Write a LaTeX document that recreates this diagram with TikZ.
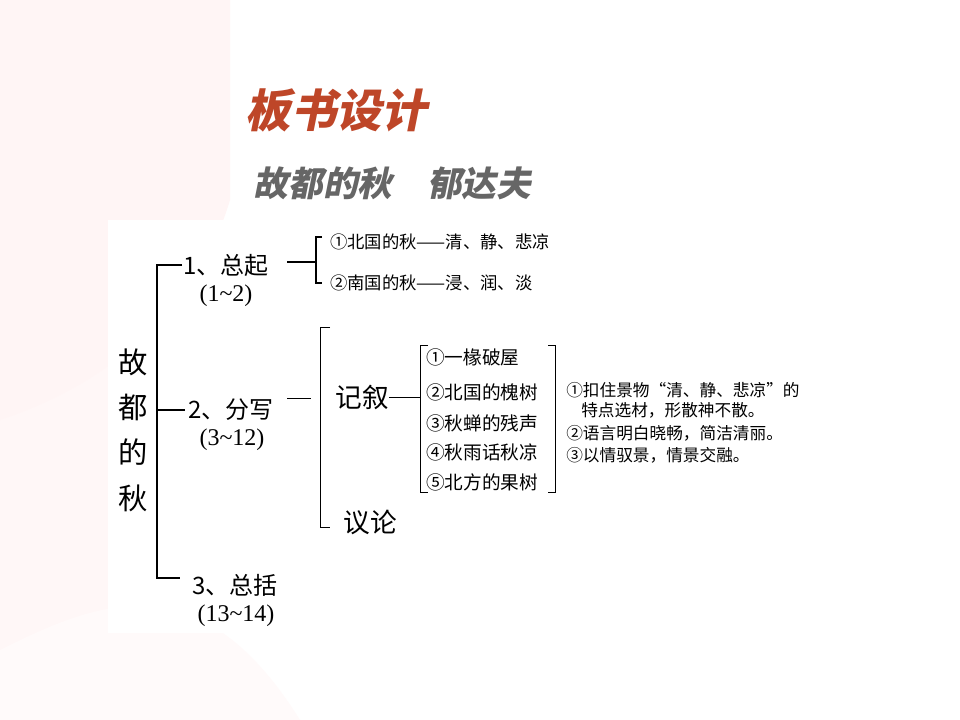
\documentclass[tikz,border=0pt]{standalone}
\usepackage{fontspec}
\setmainfont{Liberation Serif}
\newfontfamily\cjk{Noto Sans CJK SC}
\begin{document}
\begin{tikzpicture}[x=0.75pt,y=-0.75pt,
  ln/.style={line width=1.2pt,black},
  tx/.style={font=\cjk\fontsize{13}{15}\selectfont,inner sep=0pt,anchor=west},
  bx/.style={font=\cjk\fontsize{18}{20}\selectfont,inner sep=0pt},
  nm/.style={font=\fontsize{18}{20}\selectfont,inner sep=0pt}]
\useasboundingbox (0,0) rectangle (960,720);
\fill[white] (0,0) rectangle (960,720);
\fill[red!3] (0,0) rectangle (150,720);
\fill[red!4] (0,420) .. controls (120,380) and (200,300) .. (230,200) -- (230,0) -- (0,0) -- cycle;
\fill[red!2] (0,650) .. controls (100,600) and (200,560) .. (300,720) -- (0,720) -- cycle;
\fill[white] (108,220) rectangle (832,633);
% titles
\node[font=\cjk\bfseries\fontsize{34}{36}\selectfont,text={rgb,255:red,190;green,70;blue,40},xslant=0.2] (t) at (340,110) {板书设计};
\node[font=\cjk\bfseries\fontsize{26}{28}\selectfont,text=gray!80!black,xslant=0.2] (st) at (395,183) {故都的秋\quad 郁达夫};
% root
\node[bx,align=center,font=\cjk\fontsize{22}{34}\selectfont] (r) at (133,430) {故\\都\\的\\秋};
\coordinate (m1) at (157,265); \coordinate (m3) at (157,578);
\draw[ln] (182,265) -- (m1) -- (m3) -- (180,578);
\draw[ln] (157,410) -- (185,410);
\node[bx,anchor=west] (a1) at (183,265) {1、总起};
\node[nm] (a1n) at (226,296) {(1\textasciitilde2)};
\node[bx,anchor=west] (a2) at (188,410) {2、分写};
\node[nm] (a2n) at (232,440) {(3\textasciitilde12)};
\node[bx,anchor=west] (a3) at (192,585) {3、总括};
\node[nm] (a3n) at (236,616) {(13\textasciitilde14)};
% branch 1
\draw[ln] (287,262) -- (316,262);
\draw[ln] (322,237) -- (316,237) -- (316,283) -- (322,283);
\node[tx] (b1) at (330,242) {①北国的秋——清、静、悲凉};
\node[tx] (b2) at (330,283) {②南国的秋——浸、润、淡};
% branch 2
\draw (287,398) -- (311,398);
\draw (330,327) -- (320,327) -- (320,527) -- (330,527);
\node[bx,font=\cjk\fontsize{20}{22}\selectfont] (c1) at (362,397) {记叙};
\node[bx,font=\cjk\fontsize{20}{22}\selectfont] (c2) at (370,522) {议论};
\draw (c1.east) -- (420,397);
\draw (428,345) -- (420,345) -- (420,492) -- (428,492);
\draw (548,345) -- (555,345) -- (555,492) -- (548,492);
\node[tx,font=\cjk\fontsize{14}{16}\selectfont] (d1) at (426,357) {①一椽破屋};
\node[tx,font=\cjk\fontsize{14}{16}\selectfont] (d2) at (426,392) {②北国的槐树};
\node[tx,font=\cjk\fontsize{14}{16}\selectfont] (d3) at (426,423) {③秋蝉的残声};
\node[tx,font=\cjk\fontsize{14}{16}\selectfont] (d4) at (426,452) {④秋雨话秋凉};
\node[tx,font=\cjk\fontsize{14}{16}\selectfont] (d5) at (426,482) {⑤北方的果树};
\node[tx,font=\cjk\fontsize{12.5}{14}\selectfont] (e1) at (566,390) {①扣住景物“清、静、悲凉”的};
\node[tx,font=\cjk\fontsize{12.5}{14}\selectfont] (e2) at (581,410) {特点选材，形散神不散。};
\node[tx,font=\cjk\fontsize{12.5}{14}\selectfont] (e3) at (566,433) {②语言明白晓畅，简洁清丽。};
\node[tx,font=\cjk\fontsize{12.5}{14}\selectfont] (e4) at (566,455) {③以情驭景，情景交融。};
\end{tikzpicture}
\end{document}
